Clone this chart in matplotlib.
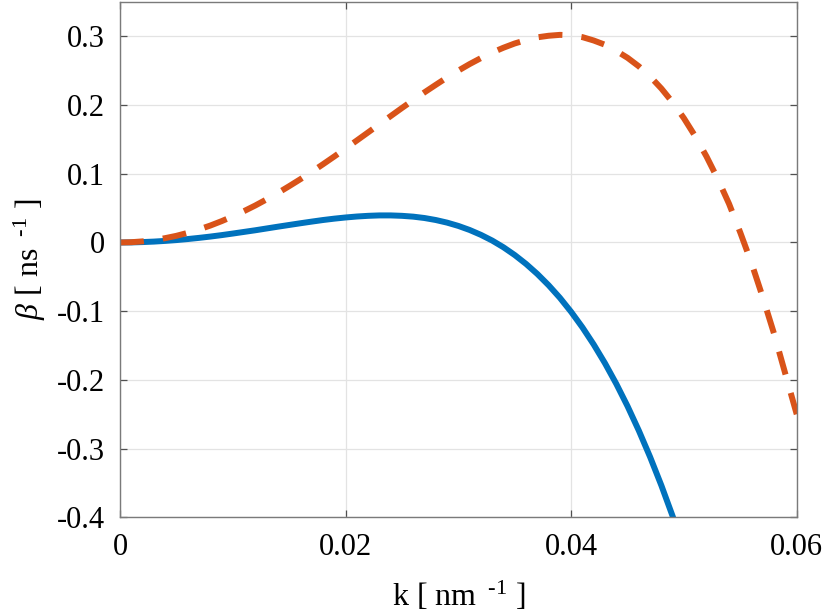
import numpy as np
import matplotlib.pyplot as plt

plt.rcParams['font.family'] = ['Liberation Serif', 'DejaVu Serif']
plt.rcParams['mathtext.fontset'] = 'custom'
plt.rcParams['mathtext.rm'] = 'Liberation Serif'
plt.rcParams['mathtext.it'] = 'Liberation Serif:italic'
plt.rcParams['axes.unicode_minus'] = False

# wavenumber k [nm^-1] and growth rate beta [ns^-1]
k_blue = [0, 0.001, 0.002, 0.003, 0.004, 0.005, 0.006, 0.007, 0.008, 0.009,
          0.010, 0.011, 0.012, 0.013, 0.014, 0.015, 0.016, 0.017, 0.018,
          0.019, 0.020, 0.021, 0.022, 0.023, 0.024, 0.025, 0.026, 0.027,
          0.028, 0.029, 0.030, 0.031, 0.032, 0.033, 0.034, 0.035, 0.036,
          0.037, 0.038, 0.039, 0.040, 0.041, 0.042, 0.043, 0.044, 0.045,
          0.046, 0.047, 0.048, 0.049, 0.0495]
beta_blue = [0, 0.0001, 0.0006, 0.0013, 0.0023, 0.0035, 0.0050, 0.0067,
             0.0086, 0.0107, 0.0130, 0.0154, 0.0178, 0.0204, 0.0230, 0.0255,
             0.0280, 0.0304, 0.0327, 0.0347, 0.0364, 0.0378, 0.0388, 0.0394,
             0.0394, 0.0388, 0.0376, 0.0356, 0.0327, 0.0289, 0.0241, 0.0182,
             0.0111, 0.0028, -0.0070, -0.0183, -0.0312, -0.0458, -0.0622,
             -0.0805, -0.1010, -0.1236, -0.1485, -0.1758, -0.2057, -0.2383,
             -0.2738, -0.3122, -0.3537, -0.3985, -0.4222]

k_red = [0, 0.001, 0.002, 0.003, 0.004, 0.005, 0.006, 0.007, 0.008, 0.009,
         0.010, 0.011, 0.012, 0.013, 0.014, 0.015, 0.016, 0.017, 0.018,
         0.019, 0.020, 0.021, 0.022, 0.023, 0.024, 0.025, 0.026, 0.027,
         0.028, 0.029, 0.030, 0.031, 0.032, 0.033, 0.034, 0.035, 0.036,
         0.037, 0.038, 0.039, 0.040, 0.041, 0.042, 0.043, 0.044, 0.045,
         0.046, 0.047, 0.048, 0.049, 0.050, 0.051, 0.052, 0.053, 0.054,
         0.055, 0.056, 0.057, 0.058, 0.059, 0.060]
beta_red = [0, 0.0004, 0.0016, 0.0035, 0.0063, 0.0097, 0.0140, 0.0190,
            0.0246, 0.0310, 0.0380, 0.0457, 0.0539, 0.0628, 0.0721, 0.0820,
            0.0922, 0.1029, 0.1139, 0.1252, 0.1368, 0.1485, 0.1603, 0.1722,
            0.1840, 0.1958, 0.2073, 0.2186, 0.2295, 0.2402, 0.2502, 0.2597,
            0.2684, 0.2765, 0.2835, 0.2897, 0.2946, 0.2986, 0.3009, 0.3022,
            0.3016, 0.2989, 0.2940, 0.2878, 0.2789, 0.2688, 0.2564, 0.2416,
            0.2241, 0.2039, 0.1808, 0.1546, 0.1252, 0.0925, 0.0563, 0.0143,
            -0.0304, -0.0803, -0.1333, -0.1917, -0.2500]

xticks = [0, 0.02, 0.04, 0.06]
xticklabels = ['0', '0.02', '0.04', '0.06']
yticks = [-0.4, -0.3, -0.2, -0.1, 0, 0.1, 0.2, 0.3]
yticklabels = ['-0.4', '-0.3', '-0.2', '-0.1', '0', '0.1', '0.2', '0.3']

fig = plt.figure(figsize=(8.3, 6.14), dpi=100)
ax = fig.add_axes([0.1446, 0.1575, 0.8153, 0.8392])

ax.plot(k_blue, beta_blue, color='#0072BD', lw=4.3, solid_capstyle='butt')
ax.plot(k_red, beta_red, color='#D95319', lw=4.3,
        linestyle=(0, (4.0, 3.2)), dash_capstyle='butt')

ax.set_xlim(0, 0.06)
ax.set_ylim(-0.4, 0.35)
ax.set_xticks(xticks)
ax.set_xticklabels(xticklabels)
ax.set_yticks(yticks)
ax.set_yticklabels(yticklabels)

ax.grid(True, color='#e3e3e3', lw=0.9)
ax.set_axisbelow(True)
for s in ax.spines.values():
    s.set_color('#7a7a7a')
    s.set_linewidth(1.0)
ax.tick_params(direction='in', length=5, width=0.9, color='#505050',
               top=True, right=True, labelsize=22)
ax.tick_params(axis='x', pad=11)
ax.tick_params(axis='y', pad=11)

ax.set_xlabel(r'k [ nm $\,^{\text{-1}}$ ]', fontsize=23, labelpad=13)
ax.set_ylabel(r'$\it{\beta}$ [ ns $\,^{\text{-1}}$ ]', fontsize=23, labelpad=6)

fig.savefig('out.png', dpi=100)
